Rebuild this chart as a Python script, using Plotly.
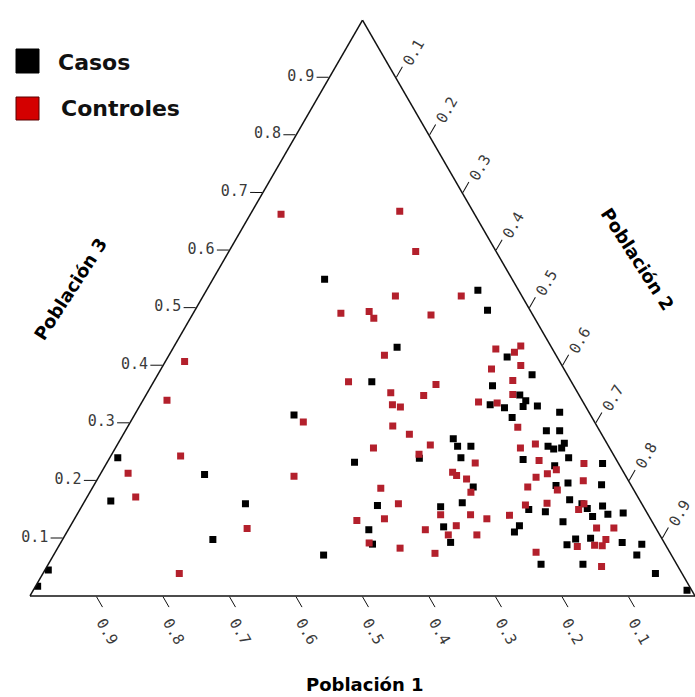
import plotly.graph_objects as go

# ---------------- data (Población 3 = a, Población 1 = b, Población 2 = c) ----------------
casos_p3 = [0.550, 0.372, 0.314, 0.531, 0.496, 0.432, 0.415, 0.365, 0.332, 0.327,
            0.240, 0.211, 0.165, 0.098, 0.045, 0.017, 0.232, 0.160, 0.115, 0.090,
            0.071, 0.157, 0.310, 0.273, 0.260, 0.260, 0.239, 0.240, 0.189, 0.162,
            0.155, 0.120, 0.093, 0.111, 0.384, 0.349, 0.339, 0.329, 0.330, 0.319,
            0.287, 0.287, 0.260, 0.255, 0.265, 0.257, 0.237, 0.240, 0.226, 0.230,
            0.192, 0.196, 0.193, 0.167, 0.150, 0.146, 0.160, 0.152, 0.138, 0.129,
            0.122, 0.099, 0.089, 0.100, 0.055, 0.055, 0.156, 0.142, 0.144, 0.093,
            0.090, 0.071, 0.039, 0.010]
casos_p1 = [0.282, 0.300, 0.446, 0.061, 0.064, 0.232, 0.075, 0.122, 0.142, 0.123,
            0.748, 0.632, 0.796, 0.676, 0.950, 0.980, 0.396, 0.596, 0.433, 0.440,
            0.523, 0.399, 0.120, 0.227, 0.227, 0.207, 0.295, 0.232, 0.239, 0.269,
            0.305, 0.318, 0.321, 0.216, 0.053, 0.089, 0.085, 0.094, 0.072, 0.044,
            0.080, 0.060, 0.091, 0.085, 0.064, 0.072, 0.140, 0.070, 0.098, 0.024,
            0.113, 0.093, 0.044, 0.105, 0.175, 0.152, 0.090, 0.086, 0.085, 0.134,
            0.203, 0.130, 0.148, 0.107, 0.204, 0.141, 0.061, 0.060, 0.036, 0.063,
            0.035, 0.052, 0.040, 0.007]
casos_p2 = [0.168, 0.328, 0.240, 0.408, 0.440, 0.336, 0.510, 0.513, 0.526, 0.550,
            0.012, 0.157, 0.039, 0.226, 0.005, 0.003, 0.372, 0.244, 0.452, 0.470,
            0.406, 0.444, 0.570, 0.500, 0.513, 0.533, 0.466, 0.528, 0.572, 0.569,
            0.540, 0.562, 0.586, 0.673, 0.563, 0.562, 0.576, 0.577, 0.598, 0.637,
            0.633, 0.653, 0.649, 0.660, 0.671, 0.671, 0.623, 0.690, 0.676, 0.746,
            0.695, 0.711, 0.763, 0.728, 0.675, 0.702, 0.750, 0.762, 0.777, 0.737,
            0.675, 0.771, 0.763, 0.793, 0.741, 0.804, 0.783, 0.798, 0.820, 0.844,
            0.875, 0.877, 0.921, 0.983]

controles_p3 = [0.407, 0.340, 0.243, 0.213, 0.172, 0.039, 0.663, 0.668, 0.491, 0.494,
                0.482, 0.372, 0.302, 0.598, 0.521, 0.521, 0.488, 0.418, 0.429, 0.394,
                0.367, 0.353, 0.348, 0.332, 0.328, 0.337, 0.335, 0.208, 0.257, 0.117,
                0.131, 0.092, 0.295, 0.281, 0.262, 0.246, 0.231, 0.215, 0.209, 0.203,
                0.180, 0.187, 0.160, 0.141, 0.141, 0.134, 0.140, 0.134, 0.115, 0.122,
                0.106, 0.106, 0.083, 0.074, 0.434, 0.423, 0.400, 0.374, 0.350, 0.293,
                0.257, 0.264, 0.235, 0.230, 0.219, 0.206, 0.212, 0.189, 0.184, 0.200,
                0.158, 0.161, 0.150, 0.118, 0.086, 0.088, 0.087, 0.076, 0.051, 0.118,
                0.098, 0.160]
controles_p1 = [0.564, 0.624, 0.652, 0.746, 0.755, 0.756, 0.291, 0.110, 0.287, 0.243,
                0.242, 0.335, 0.438, 0.121, 0.190, 0.091, 0.153, 0.258, 0.085, 0.109,
                0.206, 0.281, 0.234, 0.289, 0.279, 0.157, 0.130, 0.499, 0.355, 0.615,
                0.443, 0.444, 0.307, 0.289, 0.267, 0.292, 0.215, 0.257, 0.254, 0.242,
                0.247, 0.379, 0.366, 0.312, 0.267, 0.246, 0.209, 0.400, 0.348, 0.298,
                0.318, 0.275, 0.402, 0.354, 0.045, 0.060, 0.062, 0.087, 0.099, 0.120,
                0.134, 0.108, 0.117, 0.052, 0.099, 0.136, 0.116, 0.157, 0.115, 0.068,
                0.176, 0.142, 0.100, 0.089, 0.134, 0.107, 0.096, 0.201, 0.115, 0.063,
                0.085, 0.087]
controles_p2 = [0.029, 0.036, 0.105, 0.041, 0.073, 0.205, 0.046, 0.222, 0.222, 0.263,
                0.276, 0.293, 0.260, 0.281, 0.289, 0.388, 0.359, 0.324, 0.486, 0.497,
                0.427, 0.366, 0.418, 0.379, 0.393, 0.506, 0.535, 0.293, 0.388, 0.268,
                0.426, 0.464, 0.398, 0.430, 0.471, 0.462, 0.554, 0.528, 0.537, 0.555,
                0.573, 0.434, 0.474, 0.547, 0.592, 0.620, 0.651, 0.466, 0.537, 0.580,
                0.576, 0.619, 0.515, 0.572, 0.521, 0.517, 0.538, 0.539, 0.551, 0.587,
                0.609, 0.628, 0.648, 0.718, 0.682, 0.658, 0.672, 0.654, 0.701, 0.732,
                0.666, 0.697, 0.750, 0.793, 0.780, 0.805, 0.817, 0.723, 0.834, 0.819,
                0.817, 0.753]

tick_values = [0.1, 0.2, 0.3, 0.4, 0.5, 0.6, 0.7, 0.8, 0.9]
tick_labels = ["0.1", "0.2", "0.3", "0.4", "0.5", "0.6", "0.7", "0.8", "0.9"]

series_names = ["Casos", "Controles"]
axis_titles = ["Población 3", "Población 2", "Población 1"]

# ---------------- styling ----------------
W, H = 695, 697
ML, MR, MT, MB = 30, 0, 0, 81
PW, PH = W - ML - MR, H - MT - MB

def px(x):
    return (x - ML) / PW

def py(y):
    return (H - MB - y) / PH

COL_CASOS = "#000000"
COL_CONTROLES = "#b3202c"
TICKFONT = dict(family="DejaVu Sans Mono", size=15, color="#3a3a3a")
TITLEFONT = dict(family="DejaVu Sans", size=18, color="#000000", weight="bold")

fig = go.Figure()
fig.add_trace(go.Scatterternary(
    a=casos_p3, b=casos_p1, c=casos_p2, mode="markers", name=series_names[0],
    marker=dict(symbol="square", size=7, color=COL_CASOS, line=dict(width=0)),
    showlegend=False))
fig.add_trace(go.Scatterternary(
    a=controles_p3, b=controles_p1, c=controles_p2, mode="markers", name=series_names[1],
    marker=dict(symbol="square", size=7, color=COL_CONTROLES, line=dict(width=0)),
    showlegend=False))

def axis(angle=None):
    d = dict(title=dict(text=""), tickmode="array", tickvals=tick_values, ticktext=tick_labels,
             ticks="outside", ticklen=12, tickwidth=1.2, tickcolor="#111111",
             showline=True, linecolor="#111111", linewidth=1.5, showgrid=False,
             tickfont=TICKFONT, min=0)
    if angle is not None:
        d["tickangle"] = angle
    return d

fig.update_layout(
    width=W, height=H,
    margin=dict(l=ML, r=MR, t=MT, b=MB, pad=0),
    paper_bgcolor="white",
    showlegend=False,
    ternary=dict(sum=1, bgcolor="white", domain=dict(x=[0, 1], y=[0, 1]),
                 aaxis=axis(), baxis=axis(60), caxis=axis(-60)),
)

# legend drawn manually (large squares)
fig.add_shape(type="rect", xref="paper", yref="paper",
              x0=px(16), x1=px(39), y0=py(49), y1=py(73),
              fillcolor=COL_CASOS, line=dict(color="#000000", width=1))
fig.add_shape(type="rect", xref="paper", yref="paper",
              x0=px(16), x1=px(39), y0=py(97), y1=py(120),
              fillcolor="#d40000", line=dict(color="#5a0000", width=1))
LEGFONT = dict(family="DejaVu Sans", size=22, color="#111111", weight="bold")
fig.add_annotation(text=series_names[0], xref="paper", yref="paper", x=px(56), y=py(62),
                   xanchor="left", yanchor="middle", showarrow=False, font=LEGFONT)
fig.add_annotation(text=series_names[1], xref="paper", yref="paper", x=px(59), y=py(108),
                   xanchor="left", yanchor="middle", showarrow=False, font=LEGFONT)

# axis titles
fig.add_annotation(text=axis_titles[0], xref="paper", yref="paper", x=px(71), y=py(289),
                   xanchor="center", yanchor="middle",
                   textangle=-57, showarrow=False, font=TITLEFONT)
fig.add_annotation(text=axis_titles[1], xref="paper", yref="paper", x=px(638), y=py(259),
                   xanchor="center", yanchor="middle",
                   textangle=57, showarrow=False, font=TITLEFONT)
fig.add_annotation(text=axis_titles[2], xref="paper", yref="paper", x=px(365), y=py(685),
                   xanchor="center", yanchor="middle",
                   showarrow=False, font=TITLEFONT)

fig.write_html("out.html")
